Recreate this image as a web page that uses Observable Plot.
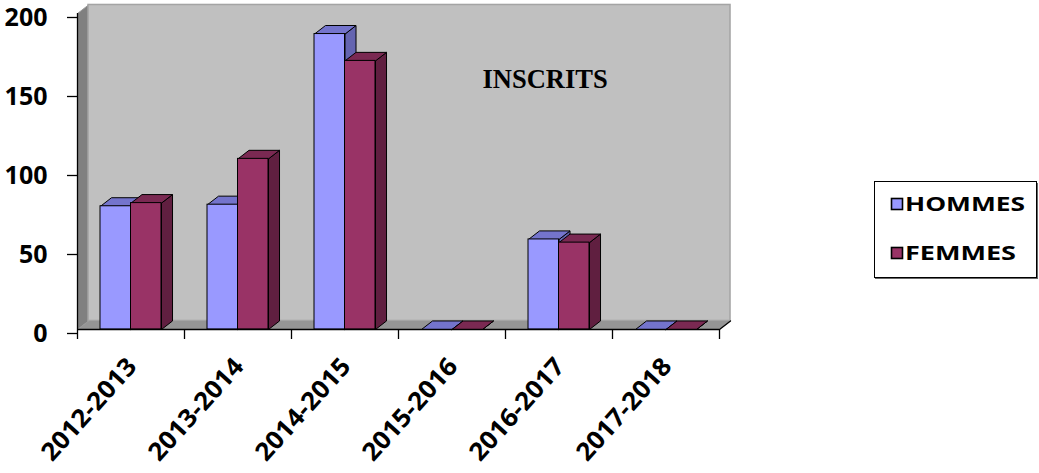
<!DOCTYPE html>
<html><head><meta charset="utf-8">
<script src="https://cdn.jsdelivr.net/npm/d3@7"></script>
<script src="https://cdn.jsdelivr.net/npm/@observablehq/plot@0.6"></script>
<style>
html,body{margin:0;padding:0;background:#fff;}
#chart{position:relative;width:1039px;height:473px;overflow:hidden;}
#legend{position:absolute;left:874px;top:181px;}
</style></head><body>
<div id="chart"></div>
<script>
// ---- data ----
const categories = ["2012-2013", "2013-2014", "2014-2015", "2015-2016", "2016-2017", "2017-2018"];
const hommes = [78, 79, 187, 0, 57, 0];
const femmes = [80, 108, 170, 0, 55, 0];
const seriesNames = ["HOMMES", "FEMMES"];
const yTicks = [0, 50, 100, 150, 200];
const title = "INSCRITS";

// ---- styling / geometry ----
const DX = 0.103, DY = 5.4;   // 3D depth (x in category units, y in value units)
const N = categories.length, YMAX = yTicks[yTicks.length - 1];
const series = [
  {name: seriesNames[0], values: hommes, a: 0.215, b: 0.5, front: "#9999FF", top: "#7474CC", side: "#6464B0", textLen: 120},
  {name: seriesNames[1], values: femmes, a: 0.5, b: 0.785, front: "#993366", top: "#7A2952", side: "#601F40", textLen: 111}
];
const poly = (id, pts) => pts.concat([pts[0]]).map(([x, y]) => ({id, x, y}));
const sidePolys = s => s.values.flatMap((v, i) => {
  const R = i + s.b;
  return poly(i, [[R, 0], [R + DX, DY], [R + DX, v + DY], [R, v]]);
});
const topPolys = s => s.values.flatMap((v, i) => {
  const L = i + s.a, R = i + s.b;
  return poly(i, [[L, v], [R, v], [R + DX, v + DY], [L + DX, v + DY]]);
});

const leftWall = poly(0, [[0, 0], [DX, DY], [DX, YMAX + DY], [0, YMAX]]);
const floor = poly(0, [[0, 0], [N, 0], [N + DX, DY], [DX, DY]]);
const font = "'Open Sans', sans-serif";

const barMarks = series.flatMap(s => [
  Plot.line(sidePolys(s), {x: "x", y: "y", z: "id", fill: s.side, stroke: "#000", strokeWidth: 1, curve: "linear"}),
  Plot.line(topPolys(s), {x: "x", y: "y", z: "id", fill: s.top, stroke: "#000", strokeWidth: 1, curve: "linear"}),
  Plot.rect(s.values.map((v, i) => ({i, v})), {x1: d => d.i + s.a, x2: d => d.i + s.b, y1: d => 0, y2: d => d.v, fill: s.front, stroke: "#000", strokeWidth: 1})
]);

const chart = Plot.plot({
  width: 1039,
  height: 473,
  marginLeft: 77,
  marginRight: 320,
  marginTop: 13,
  marginBottom: 144,
  style: {background: "#fff", overflow: "visible"},
  x: {type: "linear", domain: [0, N], axis: null, label: null},
  y: {domain: [0, YMAX], axis: null, label: null},
  marks: [
    Plot.line(leftWall, {x: "x", y: "y", fill: "#808080", stroke: "#9a9a9a", strokeWidth: 1}),
    Plot.rect([0], {x1: d => DX, x2: d => N + DX, y1: d => DY, y2: d => YMAX + DY, fill: "#c0c0c0", stroke: "#a4a4a4", strokeWidth: 1.5}),
    Plot.line(floor, {x: "x", y: "y", fill: "#959595", stroke: "none"}),
    Plot.line([{x: N, y: 0}, {x: N + DX, y: DY}], {x: "x", y: "y", stroke: "#000", strokeWidth: 1.3}),
    ...barMarks,
    Plot.ruleX([0], {y1: d => 0, y2: d => YMAX, stroke: "#000", strokeWidth: 1.3}),
    Plot.ruleY([0], {x1: d => 0, x2: d => N, stroke: "#000", strokeWidth: 1.3}),
    Plot.axisY({ticks: yTicks, label: null, tickSize: 10, tickPadding: 20, color: "#000", fontSize: 25, fontWeight: "bold", fontFamily: font, dy: 4, strokeWidth: 1.3}),
    Plot.axisX({ticks: d3.range(N + 1), label: null, tickSize: 10, tickFormat: () => "", color: "#000", strokeWidth: 1.3}),
    Plot.text(categories, {x: (d, i) => i + 0.5, y: d => 0, text: d => d, rotate: -48, textAnchor: "end", lineAnchor: "bottom", dx: 7, dy: 38, fontSize: 25, fontWeight: "bold", fontFamily: font, fill: "#000", ariaDescription: "xlabels"}),
    Plot.text([title], {frameAnchor: "top-left", textAnchor: "start", lineAnchor: "bottom", dx: 405, dy: 74, fontSize: 26.5, fontWeight: "bold", fontFamily: "'Liberation Serif', 'Times New Roman', serif", fill: "#000"})
  ]
});
chart.querySelectorAll('g[aria-description="xlabels"] text').forEach(t => {
  t.setAttribute("textLength", 128);
  t.setAttribute("lengthAdjust", "spacingAndGlyphs");
});
document.getElementById("chart").appendChild(chart);

// ---- legend ----
const lg = d3.select("#chart").append("div").attr("id", "legend");
const ls = lg.append("svg").attr("width", 165).attr("height", 100);
ls.append("rect").attr("x", 1).attr("y", 2).attr("width", 163).attr("height", 96).attr("fill", "#666");
ls.append("rect").attr("x", 0.5).attr("y", 0.5).attr("width", 162).attr("height", 96).attr("fill", "#fff").attr("stroke", "#000").attr("stroke-width", 1);
series.forEach((s, k) => {
  const y0 = 17 + k * 49;
  ls.append("rect").attr("x", 17.5).attr("y", y0 + 0.5).attr("width", 11).attr("height", 11)
    .attr("fill", s.front).attr("stroke", "#000").attr("stroke-width", 1.6);
  ls.append("text").attr("x", 31).attr("y", y0 + 12.5)
    .attr("font-family", font).attr("font-weight", "bold").attr("font-size", 19.5)
    .attr("textLength", s.textLen).attr("lengthAdjust", "spacingAndGlyphs")
    .attr("fill", "#000").text(s.name);
});
</script>
</body></html>
